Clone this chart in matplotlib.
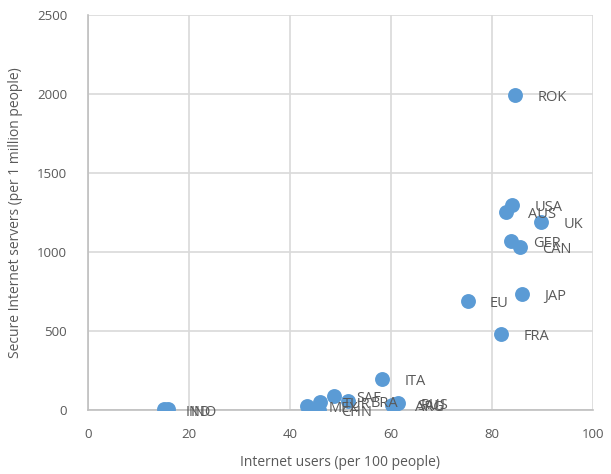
import matplotlib
matplotlib.use("Agg")
import matplotlib.pyplot as plt

# country codes and values
countries = ["ROK", "USA", "AUS", "UK", "GER", "CAN", "JAP", "EU", "FRA", "ITA",
             "IND", "INO", "MEX", "CHN", "TUR", "SAF", "BRA", "ARG", "RUS", "SAU"]
internet_users = [84.6, 84.0, 82.8, 89.7, 83.8, 85.5, 85.9, 75.2, 81.8, 58.3,
                  15.0, 15.9, 43.3, 45.7, 46.0, 48.7, 51.5, 60.3, 61.4, 60.8]
secure_servers = [1995, 1300, 1253, 1192, 1070, 1035, 735, 690, 481, 198,
                  4, 4, 27, 1, 53, 89, 59, 32, 47, 38]

plt.rcParams['font.family'] = ['Open Sans', 'DejaVu Sans']

fig = plt.figure(figsize=(6.11, 4.74), dpi=100)
ax = fig.add_axes([0.144, 0.135, 0.8265, 0.833])

grey = '#595959'
ax.scatter(internet_users, secure_servers, s=115, color='#5B9BD5', zorder=3, linewidths=0)

# labels to the right of each point
for name, x, y in zip(countries, internet_users, secure_servers):
    ax.annotate(name, (x, y), xytext=(16, -2), textcoords='offset points',
                va='center', ha='left', fontsize=10.5, color=grey, zorder=4)

ax.set_xlim(0, 100)
ax.set_ylim(0, 2500)
ax.set_xticks(range(0, 101, 20))
ax.set_yticks(range(0, 2501, 500))
ax.grid(True, color='#D9D9D9', linewidth=1.2)
ax.set_axisbelow(True)
ax.tick_params(length=0, labelsize=9.5, labelcolor=grey)
ax.tick_params(axis='y', pad=15)
ax.tick_params(axis='x', pad=13)

for side in ['top', 'right']:
    ax.spines[side].set_visible(False)
for side in ['left', 'bottom']:
    ax.spines[side].set_color('#BFBFBF')
    ax.spines[side].set_linewidth(1.2)

ax.set_xlabel('Internet users (per 100 people)', fontsize=10, color=grey, labelpad=10)
ax.set_ylabel('Secure Internet servers (per 1 million people)', fontsize=10, color=grey, labelpad=10)

fig.savefig('out.png', dpi=100)
